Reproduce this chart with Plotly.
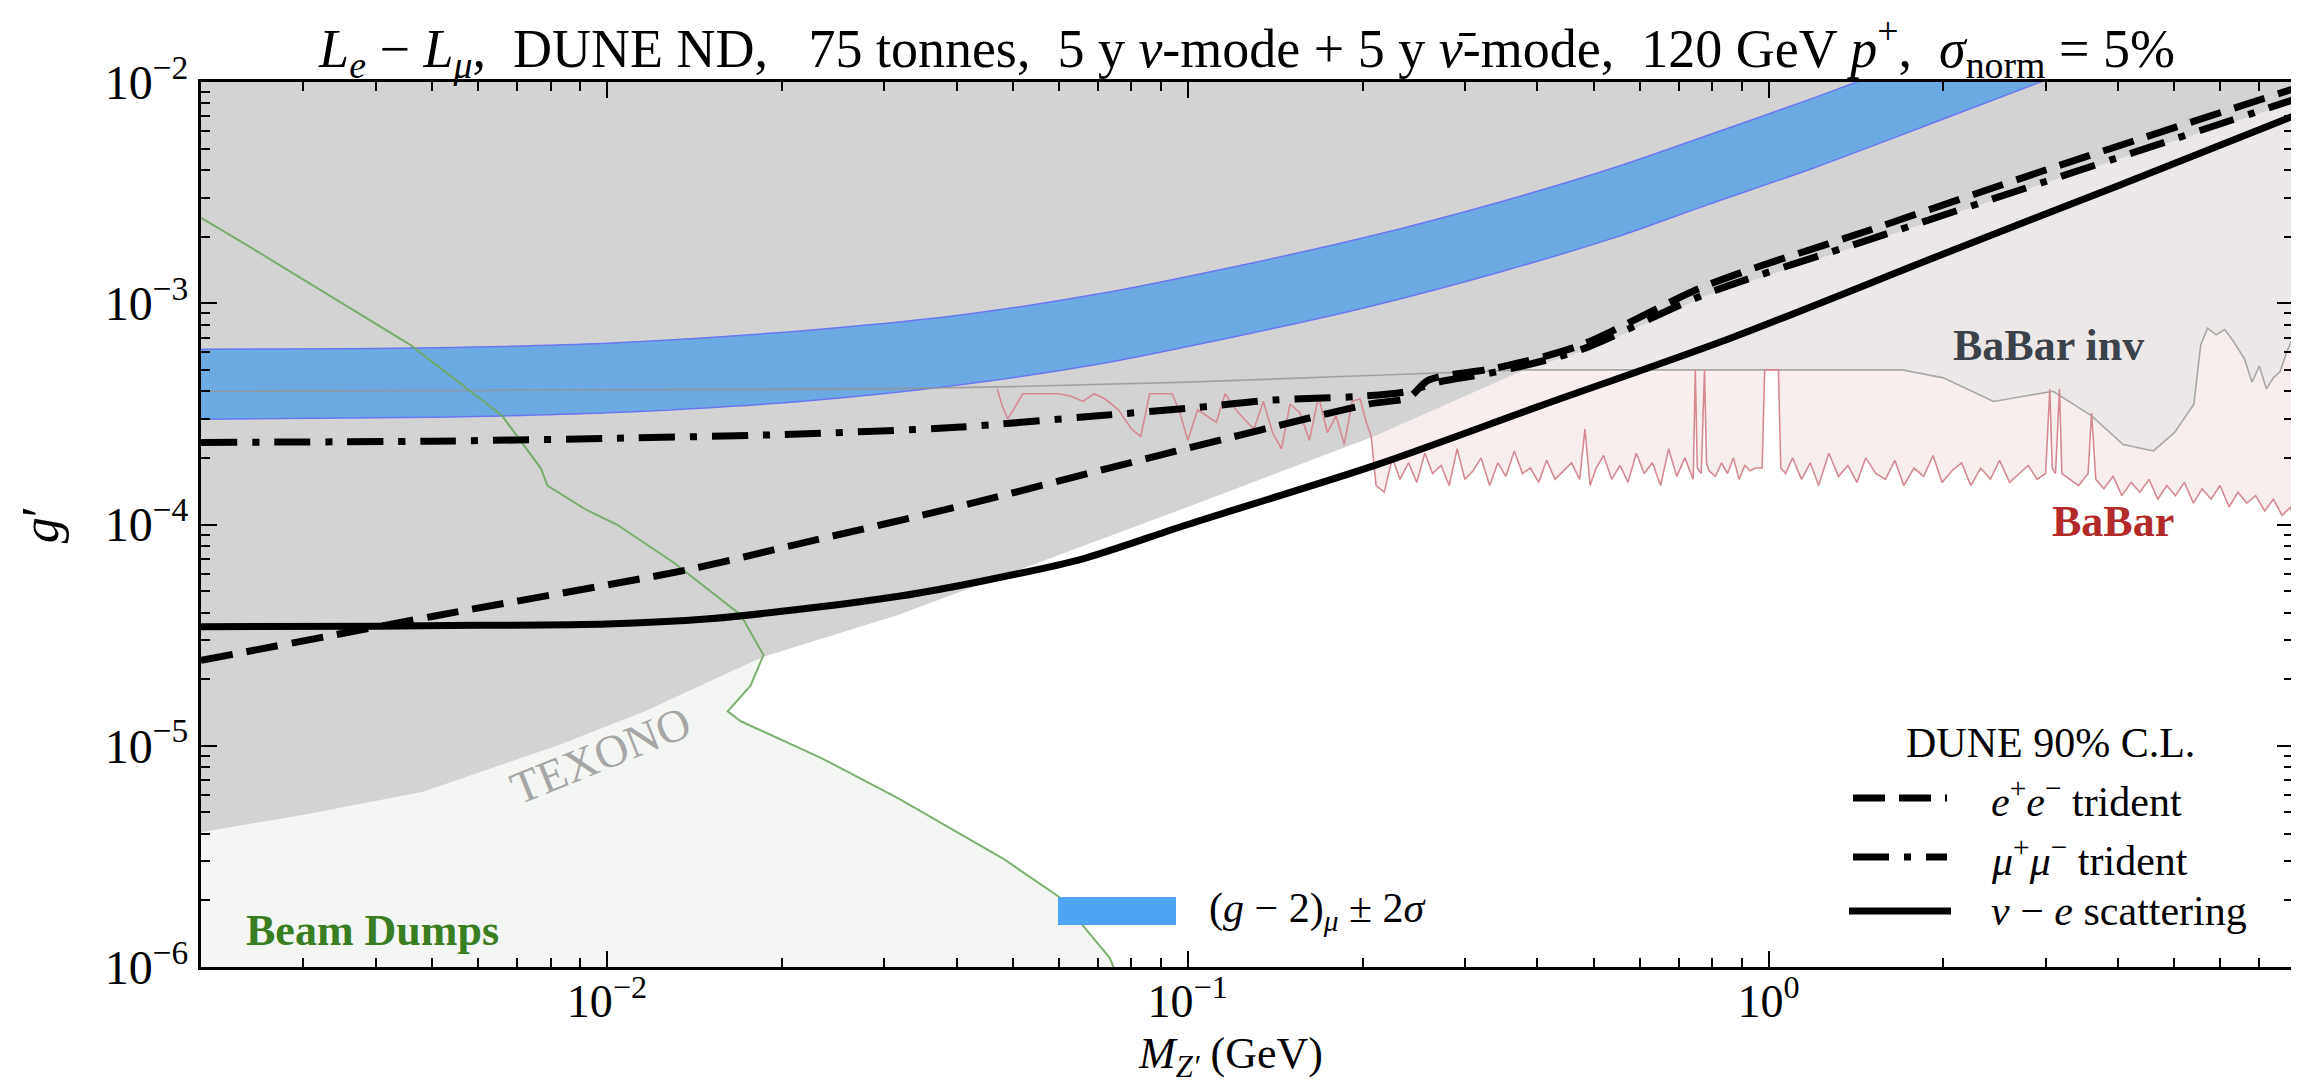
import numpy as np
import plotly.graph_objects as go

# ---------------- data ----------------
# nu - e scattering (solid)
solid_x = [0.002, 0.004, 0.006, 0.01, 0.015, 0.02, 0.032, 0.045, 0.066, 0.1, 0.21, 0.4, 0.86, 2.0, 4.0, 8.0]
solid_y = [3.45e-5, 3.47e-5, 3.5e-5, 3.55e-5, 3.75e-5, 4.05e-5, 4.75e-5, 5.6e-5, 7.0e-5, 1.0e-4, 1.85e-4,
           3.4e-4, 6.95e-4, 1.67e-3, 3.4e-3, 7.0e-3]

# e+e- trident (dashed)
dashed_x = [0.002, 0.005, 0.014, 0.0215, 0.04, 0.095, 0.205, 0.24, 0.26, 0.34, 0.47, 0.78, 1.5, 3.0, 8.0]
dashed_y = [2.43e-5, 3.84e-5, 6.3e-5, 8.2e-5, 1.2e-4, 2.14e-4, 3.5e-4, 3.75e-4, 4.5e-4, 5.1e-4, 6.4e-4,
            1.2e-3, 2.15e-3, 4.0e-3, 9.3e-3]

# mu+mu- trident (dash-dot)
dashdot_x = [0.002, 0.005, 0.01, 0.02, 0.04, 0.07, 0.1, 0.14, 0.2, 0.24, 0.27, 0.34, 0.47, 0.78, 1.5, 3.0, 8.0]
dashdot_y = [2.35e-4, 2.38e-4, 2.45e-4, 2.55e-4, 2.75e-4, 3.1e-4, 3.35e-4, 3.65e-4, 3.8e-4, 4.0e-4, 4.4e-4,
             4.9e-4, 6.1e-4, 1.1e-3, 1.95e-3, 3.55e-3, 8.3e-3]

# (g-2)_mu +- 2 sigma band
g2_x = [0.002, 0.005, 0.01, 0.0215, 0.04, 0.07, 0.117, 0.2, 0.35, 0.55, 0.78, 1.2, 2.0, 3.0]
g2_lo = [2.99e-4, 3.05e-4, 3.2e-4, 3.6e-4, 4.26e-4, 5.3e-4, 6.95e-4, 9.5e-4, 1.4e-3, 2.0e-3, 2.77e-3,
         4.1e-3, 6.8e-3, 1.02e-2]
g2_hi = [6.2e-4, 6.3e-4, 6.6e-4, 7.5e-4, 8.8e-4, 1.1e-3, 1.44e-3, 1.97e-3, 2.9e-3, 4.15e-3, 5.7e-3,
         8.5e-3, 1.4e-2, 2.1e-2]

# TEXONO (and others) excluded region: lower boundary, then upper-right boundary
texono_x = [0.002, 0.00304, 0.00482, 0.0082, 0.0116, 0.0184, 0.0317, 0.06, 0.1, 0.209, 0.3, 0.38]
texono_y = [4.07e-6, 4.9e-6, 6.2e-6, 1.0e-5, 1.43e-5, 2.5e-5, 3.9e-5, 7.3e-5, 1.2e-4, 2.5e-4, 3.8e-4, 5.0e-4]
upper_x = [0.5, 0.78, 1.5, 3.0, 8.0]
upper_y = [6.3e-4, 1.08e-3, 1.9e-3, 3.5e-3, 8.1e-3]

# Beam dumps boundary
bd_x = [0.002, 0.0024, 0.0046, 0.0066, 0.0077, 0.0079, 0.00924, 0.0104, 0.01306, 0.01644, 0.017,
        0.0186, 0.01767, 0.01614, 0.017, 0.0234, 0.0317, 0.048, 0.06, 0.0734, 0.0745]
bd_y = [2.43e-3, 1.83e-3, 6.45e-4, 3.1e-4, 1.79e-4, 1.5e-4, 1.16e-4, 1.0e-4, 6.7e-5, 4.17e-5, 3.9e-5,
        2.57e-5, 1.87e-5, 1.43e-5, 1.29e-5, 8.8e-6, 5.8e-6, 3.1e-6, 2.08e-6, 1.1e-6, 1.0e-6]

# BaBar invisible
inv_x = [0.002, 0.01, 0.03, 0.05, 0.1, 0.2, 0.38, 1.0, 1.7, 2.0, 2.44, 3.09, 3.6, 4.08, 4.6, 5.0, 5.4,
         5.55, 5.7, 5.9, 6.1, 6.3, 6.6, 6.8, 7.0, 7.2, 7.4, 7.6, 7.8, 8.0]
inv_y = [4.0e-4, 4.05e-4, 4.1e-4, 4.2e-4, 4.4e-4, 4.7e-4, 5.0e-4, 5.0e-4, 5.0e-4, 4.6e-4, 3.6e-4, 4.0e-4,
         3.1e-4, 2.3e-4, 2.15e-4, 2.6e-4, 3.5e-4, 6.5e-4, 7.7e-4, 7.2e-4, 7.6e-4, 6.8e-4, 5.6e-4, 4.4e-4,
         5.2e-4, 4.1e-4, 4.6e-4, 4.9e-4, 6.0e-4, 7.0e-4]

# BaBar visible
babar_x = [0.047, 0.048, 0.049, 0.052, 0.056, 0.060, 0.063, 0.066, 0.069, 0.072,
           0.076, 0.080, 0.083, 0.086, 0.090, 0.094, 0.097, 0.100, 0.104, 0.108,
           0.112, 0.116, 0.120, 0.125, 0.130, 0.135, 0.140, 0.145, 0.150, 0.156,
           0.162, 0.168, 0.174, 0.180, 0.186, 0.192, 0.198, 0.203, 0.207,
           0.211, 0.218, 0.225, 0.232, 0.240, 0.248, 0.256, 0.264, 0.273, 0.282,
           0.291, 0.300, 0.310, 0.320, 0.331, 0.342, 0.353, 0.365, 0.377, 0.389,
           0.402, 0.415, 0.429, 0.443, 0.458, 0.473, 0.483, 0.493, 0.505, 0.520,
           0.537, 0.555, 0.573, 0.592, 0.611, 0.631, 0.652, 0.673, 0.695, 0.718,
           0.742, 0.748, 0.754, 0.766, 0.776, 0.782, 0.79, 0.81, 0.83, 0.85,
           0.87, 0.89, 0.91, 0.93, 0.95, 0.975, 0.985, 1.04, 1.05, 1.07,
           1.10, 1.14, 1.18, 1.22, 1.27, 1.32, 1.37, 1.42, 1.47, 1.53,
           1.59, 1.65, 1.71, 1.78, 1.85, 1.92, 1.99, 2.07, 2.15, 2.23,
           2.32, 2.41, 2.50, 2.60, 2.70, 2.80, 2.90, 3.00, 3.05, 3.08,
           3.12, 3.17, 3.20, 3.30, 3.42, 3.55, 3.60, 3.66, 3.78, 3.92,
           4.06, 4.21, 4.36, 4.52, 4.68, 4.85, 5.02, 5.20, 5.39, 5.58,
           5.78, 5.99, 6.21, 6.43, 6.66, 6.90, 7.15, 7.40, 7.66, 7.93, 8.0]
babar_y = [4.1e-4, 3.4e-4, 3.0e-4, 3.9e-4, 3.9e-4, 3.9e-4, 3.8e-4, 3.6e-4, 3.9e-4, 3.7e-4,
           3.3e-4, 2.7e-4, 2.5e-4, 3.9e-4, 3.9e-4, 3.9e-4, 3.2e-4, 2.4e-4, 3.3e-4, 3.1e-4,
           2.9e-4, 3.9e-4, 3.4e-4, 3.0e-4, 2.7e-4, 3.6e-4, 2.6e-4, 2.2e-4, 3.5e-4, 3.2e-4,
           2.4e-4, 3.8e-4, 2.6e-4, 3.1e-4, 2.3e-4, 3.6e-4, 3.7e-4, 2.9e-4, 2.5e-4,
           1.5e-4, 1.4e-4, 2.0e-4, 1.6e-4, 1.9e-4, 1.55e-4, 2.1e-4, 1.7e-4, 1.85e-4, 1.5e-4,
           2.2e-4, 1.6e-4, 1.75e-4, 2.0e-4, 1.5e-4, 1.9e-4, 1.65e-4, 2.15e-4, 1.7e-4, 1.8e-4,
           1.55e-4, 1.95e-4, 1.6e-4, 1.75e-4, 1.9e-4, 1.6e-4, 2.7e-4, 1.5e-4, 1.8e-4, 2.05e-4,
           1.6e-4, 1.85e-4, 1.55e-4, 2.1e-4, 1.7e-4, 1.9e-4, 1.5e-4, 2.2e-4, 1.65e-4, 2.0e-4,
           1.6e-4, 5.0e-4, 1.8e-4, 1.7e-4, 5.0e-4, 1.9e-4, 1.75e-4, 1.65e-4, 1.9e-4, 1.7e-4,
           2.0e-4, 1.6e-4, 1.85e-4, 1.75e-4, 1.8e-4, 1.8e-4, 5.0e-4, 5.0e-4, 1.8e-4, 1.7e-4,
           2.0e-4, 1.6e-4, 1.9e-4, 1.5e-4, 2.1e-4, 1.65e-4, 1.85e-4, 1.55e-4, 2.0e-4, 1.7e-4,
           1.6e-4, 1.95e-4, 1.5e-4, 1.8e-4, 1.65e-4, 2.05e-4, 1.55e-4, 1.75e-4, 1.9e-4, 1.5e-4,
           1.8e-4, 1.6e-4, 1.95e-4, 1.55e-4, 1.7e-4, 1.85e-4, 1.6e-4, 1.7e-4, 4.1e-4, 1.8e-4,
           1.7e-4, 4.1e-4, 1.7e-4, 1.6e-4, 1.5e-4, 1.7e-4, 3.2e-4, 1.6e-4, 1.45e-4, 1.65e-4,
           1.35e-4, 1.55e-4, 1.4e-4, 1.6e-4, 1.3e-4, 1.5e-4, 1.35e-4, 1.55e-4, 1.25e-4, 1.45e-4,
           1.3e-4, 1.5e-4, 1.2e-4, 1.4e-4, 1.25e-4, 1.35e-4, 1.15e-4, 1.3e-4, 1.1e-4, 1.2e-4, 1.05e-4]

X_MIN, X_MAX = 0.002, 8.0
Y_MIN, Y_MAX = 1e-6, 1e-2

x_tick_vals = [0.01, 0.1, 1.0]
x_tick_text = ["10<sup>−2</sup>", "10<sup>−1</sup>", "10<sup>0</sup>"]
y_tick_vals = [1e-6, 1e-5, 1e-4, 1e-3, 1e-2]
y_tick_text = ["10<sup>−6</sup>", "10<sup>−5</sup>", "10<sup>−4</sup>", "10<sup>−3</sup>", "10<sup>−2</sup>"]

FONT = "Liberation Serif"

fig = go.Figure()


def fill_poly(xs, ys, color):
    fig.add_trace(go.Scatter(x=xs, y=ys, mode="lines", fill="toself", fillcolor=color,
                             line=dict(width=0, color=color), hoverinfo="skip", showlegend=False))


def line(xs, ys, color, width, dash=None, shape="linear"):
    fig.add_trace(go.Scatter(x=xs, y=ys, mode="lines",
                             line=dict(color=color, width=width, dash=dash, shape=shape,
                                       smoothing=0.8 if shape == "spline" else None),
                             hoverinfo="skip", showlegend=False))


# beam dump fill
fill_poly(bd_x + [X_MIN], bd_y + [Y_MIN], "#f3f6f2")
# BaBar visible fill
fill_poly(babar_x + [X_MAX, babar_x[0]], babar_y + [Y_MAX, Y_MAX], "#f8eeee")
# BaBar invisible fill
fill_poly(inv_x + [X_MAX, X_MIN], inv_y + [Y_MAX, Y_MAX], "#ede8e8")
# TEXONO etc. gray region
fill_poly(texono_x + upper_x + [X_MAX, X_MIN], texono_y + upper_y + [Y_MAX, Y_MAX], "#d3d3d3")

# g-2 band
fig.add_trace(go.Scatter(x=g2_x, y=g2_lo, mode="lines",
                         line=dict(color="#6a78f0", width=1.5, shape="spline", smoothing=0.8),
                         hoverinfo="skip", showlegend=False))
fig.add_trace(go.Scatter(x=g2_x, y=g2_hi, mode="lines", fill="tonexty", fillcolor="#6caae3",
                         line=dict(color="#6a78f0", width=1.5, shape="spline", smoothing=0.8),
                         hoverinfo="skip", showlegend=False))

# BaBar lines
line(inv_x, inv_y, "rgba(150,150,150,0.8)", 1.6)
line(babar_x, babar_y, "#d58a92", 1.6)
# beam dump line
line(bd_x, bd_y, "rgba(110,170,95,0.9)", 2)

# DUNE curves
line(dashed_x, dashed_y, "black", 7, dash="32px,14px", shape="spline")
line(dashdot_x, dashdot_y, "black", 7, dash="36px,15px,7px,15px", shape="spline")
line(solid_x, solid_y, "black", 7, shape="spline")

minor_x = [m * 10.0 ** e for e in range(-3, 1) for m in range(2, 10) if X_MIN <= m * 10.0 ** e <= X_MAX]
minor_y = [m * 10.0 ** e for e in range(-6, -2) for m in range(2, 10)]

axis_common = dict(showgrid=False, zeroline=False, showline=True, linecolor="black", linewidth=3,
                   mirror="allticks", ticks="inside", ticklen=16, tickwidth=2, tickcolor="black")

fig.update_xaxes(type="log", range=[np.log10(X_MIN), np.log10(X_MAX)],
                 tickvals=x_tick_vals, ticktext=x_tick_text,
                 tickfont=dict(family=FONT, size=46, color="black"), ticklabelstandoff=-8,
                 minor=dict(ticks="inside", ticklen=9, tickwidth=1.5, tickcolor="black", tickvals=minor_x),
                 **axis_common)
fig.update_yaxes(type="log", range=[np.log10(Y_MIN), np.log10(Y_MAX)],
                 tickvals=y_tick_vals, ticktext=y_tick_text,
                 tickfont=dict(family=FONT, size=48, color="black"),
                 minor=dict(ticks="inside", ticklen=9, tickwidth=1.5, tickcolor="black", tickvals=minor_y),
                 title=dict(text="<i>g</i>′", font=dict(family=FONT, size=52, color="black"), standoff=30),
                 **axis_common)

title_text = ("<i>L</i><sub><i>e</i></sub> − <i>L</i><sub><i>μ</i></sub>,\u00a0\u00a0DUNE ND,\u00a0\u00a0\u00a0"
              "75 tonnes,\u00a0\u00a05 y <i>ν</i>-mode + 5 y <i>ν̄</i>-mode,\u00a0\u00a0120 GeV <i>p</i><sup>+</sup>,"
              "\u00a0\u00a0<i>σ</i><sub>norm</sub> = 5%")

W, H = 2299, 1082
L, R, T, B = 193, 14, 74, 123


def px(xp):
    return (xp - L) / (W - L - R)


def py(yp):
    return (H - B - yp) / (H - T - B)


shapes = [
    dict(type="line", xref="paper", yref="paper", x0=px(1845), x1=px(1939), y0=py(790), y1=py(790),
         line=dict(color="black", width=7, dash="32px,14px")),
    dict(type="line", xref="paper", yref="paper", x0=px(1845), x1=px(1939), y0=py(849), y1=py(849),
         line=dict(color="black", width=7, dash="36px,15px,7px,15px")),
    dict(type="line", xref="paper", yref="paper", x0=px(1841), x1=px(1943), y0=py(903), y1=py(903),
         line=dict(color="black", width=7)),
    dict(type="rect", xref="paper", yref="paper", x0=px(1050), x1=px(1168), y0=py(917), y1=py(889),
         fillcolor="#4ea5f3", line=dict(width=0)),
]

ann_font = dict(family=FONT, size=42, color="black")
annotations = [
    dict(text="DUNE 90% C.L.", x=px(2042), y=py(735), xanchor="center", yanchor="middle", font=ann_font),
    dict(text="<i>e</i><sup>+</sup><i>e</i><sup>−</sup> trident", x=px(1981), y=py(790),
         xanchor="left", yanchor="middle", font=ann_font),
    dict(text="<i>μ</i><sup>+</sup><i>μ</i><sup>−</sup> trident", x=px(1981), y=py(849),
         xanchor="left", yanchor="middle", font=ann_font),
    dict(text="<i>ν</i> − <i>e</i> scattering", x=px(1981), y=py(903),
         xanchor="left", yanchor="middle", font=ann_font),
    dict(text="(<i>g</i> − 2)<sub><i>μ</i></sub> ± 2<i>σ</i>", x=px(1199), y=py(903),
         xanchor="left", yanchor="middle", font=ann_font),
    dict(text="<b>BaBar inv</b>", x=px(2040), y=py(337), xanchor="center", yanchor="middle",
         font=dict(family=FONT, size=44, color="#3c4249")),
    dict(text="<b>BaBar</b>", x=px(2105), y=py(513), xanchor="center", yanchor="middle",
         font=dict(family=FONT, size=44, color="#b32a2a")),
    dict(text="<b>Beam Dumps</b>", x=px(364), y=py(922), xanchor="center", yanchor="middle",
         font=dict(family=FONT, size=44, color="#3b7d23")),
    dict(text="TEXONO", x=px(592), y=py(747), xanchor="center", yanchor="middle", textangle=-22,
         font=dict(family=FONT, size=46, color="#a6a6a6")),
    # x-axis title
    dict(text="<i>M</i><sub><i>Z′</i></sub> (GeV)", x=px(1222), y=py(1048), xanchor="center",
         yanchor="middle", font=dict(family=FONT, size=44, color="black")),
]
for a in annotations:
    a.update(xref="paper", yref="paper", showarrow=False)

fig.update_layout(
    width=W, height=H,
    margin=dict(l=L, r=R, t=T, b=B),
    plot_bgcolor="white", paper_bgcolor="white",
    title=dict(text=title_text, x=0.5, xref="paper", xanchor="center", y=1 - 40 / H, yref="container",
               yanchor="middle", font=dict(family=FONT, size=54, color="black")),
    shapes=shapes, annotations=annotations, showlegend=False,
)

fig.write_html("out.html")
